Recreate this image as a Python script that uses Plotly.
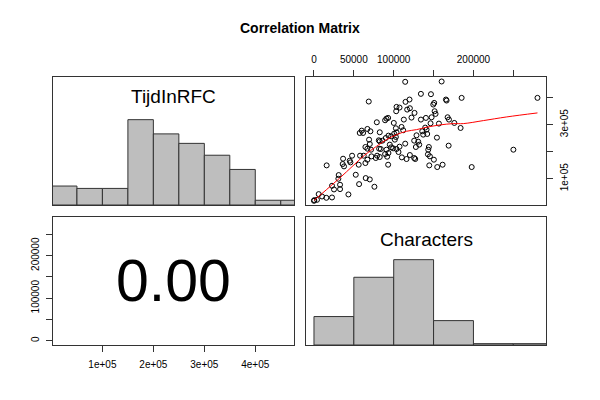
import plotly.graph_objects as go

# ---- data ----
# Scatter: Characters (x) vs TijdInRFC (y)
characters = [114400, 160100, 134100, 146700, 185200, 280300, 165500, 166300, 68700, 114800,
              119800, 150800, 149600, 103500, 107300, 103100, 116900, 120300, 126100, 151300,
              152500, 122300, 134100, 140400, 147500, 112700, 90900, 93000, 89200, 167600,
              169300, 78800, 100100, 176000, 156700, 146200, 67000, 59900, 57400, 61600,
              70800, 82500, 102700, 103500, 100600, 111900, 109800, 139500, 141200, 135800,
              142000, 183900, 128600, 137000, 93400, 96800, 90100, 69100, 81300, 82500,
              85900, 102700, 101400, 114400, 125700, 130700, 132000, 127800, 154200, 168900,
              144100, 143300, 70000, 64500, 67000, 71600, 81700, 83800, 95100, 96800,
              99300, 103500, 107300, 106000, 90900, 93400, 250100, 57800, 47800, 62400,
              72100, 79200, 77500, 82500, 89200, 91800, 110200, 116100, 120300, 125700,
              127000, 142900, 145400, 150400, 36500, 44800, 45700, 36000, 37700, 15900,
              56100, 64500, 67000, 93000, 144600, 154600, 161300, 197800, 52400, 31000,
              30600, 64900, 70000, 56600, 22600, 32700, 25100, 32700, 75800, 43200,
              5900, 10100, 15500, 22600, 400, 0, 3800]
tijd_in_rfc = [458200, 459400, 413700, 412500, 398900, 398900, 392700, 389000, 385300, 384100,
               392700, 380300, 374200, 365500, 363100, 349500, 355600, 360600, 343300, 349500,
               339600, 326000, 318600, 324800, 327200, 318600, 322300, 324800, 316100, 327200,
               318600, 308700, 306200, 306200, 303800, 305000, 284000, 277800, 269200, 269200,
               275400, 271700, 286500, 271700, 266700, 279100, 291400, 289000, 281500, 275400,
               265500, 287700, 260600, 263000, 259300, 256800, 250700, 244500, 242000, 238300,
               240800, 254400, 244500, 229700, 240800, 237100, 226000, 217300, 251900, 222300,
               217300, 207400, 228400, 217300, 211100, 207400, 211100, 209900, 226000, 216100,
               212400, 209900, 218600, 198800, 207400, 195100, 207400, 185200, 185200, 185200,
               182700, 185200, 176600, 180300, 191400, 181500, 179000, 172900, 187700, 176600,
               172900, 190200, 182700, 170400, 174100, 166700, 160500, 154300, 145700, 149400,
               151900, 158000, 170400, 151900, 149400, 143200, 151900, 143200, 114800, 113600,
               100000, 102500, 97500, 80200, 74100, 77800, 60500, 61700, 70400, 42000,
               43200, 34500, 29600, 30800, 21000, 18500, 22200]

# lowess smoother (red line)
smooth_x = [0, 15500, 32300, 49000, 63700, 78400, 90900, 103500, 116100, 128600,
            141200, 158000, 174700, 187300, 212400, 241800, 280300]
smooth_y = [19700, 59200, 102500, 148200, 187700, 219800, 244500, 263000, 275400, 281500,
            290200, 298800, 303800, 303800, 314900, 328500, 343300]

# Histograms
tijd_breaks = [0, 50000, 100000, 150000, 200000, 250000, 300000, 350000, 400000, 450000, 500000]
tijd_counts = [8, 7, 7, 36, 30, 26, 21, 15, 2, 2]
char_breaks = [0, 50000, 100000, 150000, 200000, 250000, 300000]
char_counts = [21, 50, 63, 18, 1, 1]

corr_text = "0.00"
title = "Correlation Matrix"
var_names = ["TijdInRFC", "Characters"]

# ---- figure ----
FONT = "Liberation Sans, Arial, Helvetica, sans-serif"
W, H = 600, 400
LINE = "#333333"

def px_x(a, b):
    return [a / W, b / W]

def px_y(top, bottom):
    return [1 - bottom / H, 1 - top / H]

dom_xl = px_x(53, 294)
dom_xr = px_x(306, 546)
dom_yt = px_y(77, 205)
dom_yb = px_y(217, 345)

tijd_range = [3000, 476000]
char_range = [-10000, 291000]

fig = go.Figure()

def hist_trace(breaks, counts, xa, ya):
    mx = max(counts)
    centers = [(breaks[i] + breaks[i + 1]) / 2 for i in range(len(counts))]
    widths = [breaks[i + 1] - breaks[i] for i in range(len(counts))]
    heights = [c / mx for c in counts]
    return go.Bar(x=centers, y=heights, width=widths, xaxis=xa, yaxis=ya,
                  marker=dict(color="#BEBEBE", line=dict(color=LINE, width=1)),
                  showlegend=False, hoverinfo="skip")

fig.add_trace(hist_trace(tijd_breaks, tijd_counts, "x", "y"))
fig.add_trace(hist_trace(char_breaks, char_counts, "x4", "y4"))

fig.add_trace(go.Scatter(x=characters, y=tijd_in_rfc, mode="markers", xaxis="x2", yaxis="y2",
                         marker=dict(symbol="circle-open", size=5, color="black",
                                     line=dict(width=1, color="black")),
                         showlegend=False, hoverinfo="skip"))
fig.add_trace(go.Scatter(x=smooth_x, y=smooth_y, mode="lines", xaxis="x2", yaxis="y2",
                         line=dict(color="red", width=1, shape="spline"),
                         showlegend=False, hoverinfo="skip"))

box = dict(showline=True, linecolor=LINE, linewidth=1, mirror=True, showgrid=False,
           zeroline=False, fixedrange=True, automargin=False)
tickstyle = dict(ticks="outside", ticklen=6, tickcolor=LINE, tickwidth=1,
                 tickfont=dict(family=FONT, size=10, color="black"))

layout = dict(
    width=W, height=H, margin=dict(l=0, r=0, t=0, b=0, autoexpand=False),
    paper_bgcolor="white", plot_bgcolor="white", bargap=0,
    xaxis=dict(domain=dom_xl, range=tijd_range, anchor="y", showticklabels=False, ticks="", **box),
    yaxis=dict(domain=dom_yt, range=[0, 1.5], anchor="x", showticklabels=False, ticks="", **box),
    xaxis2=dict(domain=dom_xr, range=char_range, anchor="y2", side="top",
                tickvals=[0, 50000, 100000, 150000, 200000, 250000],
                ticktext=["0", "50000", "100000", "", "200000", ""], tickangle=0,
                ticklabelstandoff=3, **box, **tickstyle),
    yaxis2=dict(domain=dom_yt, range=tijd_range, anchor="x2", side="right",
                tickvals=[100000, 200000, 300000, 400000],
                ticktext=["1e+05", "", "3e+05", ""], tickangle=-90,
                ticklabelstandoff=3, **box, **tickstyle),
    xaxis3=dict(domain=dom_xl, range=tijd_range, anchor="y3",
                tickvals=[100000, 200000, 300000, 400000],
                ticktext=["1e+05", "2e+05", "3e+05", "4e+05"], tickangle=0,
                ticklabelstandoff=4, **box, **tickstyle),
    yaxis3=dict(domain=dom_yb, range=char_range, anchor="x3",
                tickvals=[0, 50000, 100000, 150000, 200000, 250000],
                ticktext=["0", "", "100000", "", "200000", ""], tickangle=-90,
                ticklabelstandoff=3, **box, **tickstyle),
    xaxis4=dict(domain=dom_xr, range=char_range, anchor="y4", showticklabels=False, ticks="", **box),
    yaxis4=dict(domain=dom_yb, range=[0, 1.5], anchor="x4", showticklabels=False, ticks="", **box),
)
fig.update_layout(**layout)

# invisible trace on x3/y3 so that axes render
fig.add_trace(go.Scatter(x=[None], y=[None], xaxis="x3", yaxis="y3", showlegend=False))

ann = dict(showarrow=False, xanchor="center", yanchor="middle")
fig.add_annotation(text=corr_text, xref="x3 domain", yref="y3 domain", x=0.5, y=0.5,
                   font=dict(family=FONT, size=59, color="black"), **ann)
fig.add_annotation(text=var_names[0], xref="paper", yref="paper", x=173.5 / W, y=1 - 96.7 / H,
                   font=dict(family=FONT, size=19, color="black"), **ann)
fig.add_annotation(text=var_names[1], xref="paper", yref="paper", x=426 / W, y=1 - 239.4 / H,
                   font=dict(family=FONT, size=19, color="black"), **ann)
fig.add_annotation(text="<b>" + title + "</b>", xref="paper", yref="paper", x=0.5, y=1 - 28 / H,
                   font=dict(family=FONT, size=14, color="black"), **ann)

fig.write_html("out.html", config={"displayModeBar": False, "staticPlot": True},
               post_script="document.body.style.margin='0px';document.body.style.overflow='hidden';")
